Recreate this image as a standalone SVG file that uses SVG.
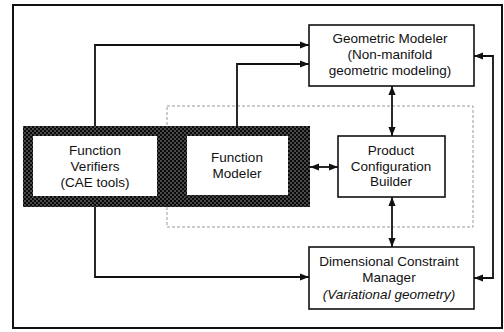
<svg xmlns="http://www.w3.org/2000/svg" width="504" height="332" viewBox="0 0 504 332">
  <style>
    .box { fill: #ffffff; stroke: #111; stroke-width: 1.6; }
    .lbl { font-family: "Liberation Sans", Arial, sans-serif; font-size: 13.5px; fill: #111; text-anchor: middle; }
    .it { font-style: italic; }
    .wire { fill: none; stroke: #111; stroke-width: 1.8; }
    .frame { fill: none; stroke: #111; stroke-width: 2; }
    .group { fill: none; stroke: #999; stroke-width: 1; stroke-dasharray: 3 2; }
  </style>
  <defs>
    <!-- dense stipple used for the function subsystem band -->
    <pattern id="stipple" width="4" height="4" patternUnits="userSpaceOnUse">
      <rect width="4" height="4" fill="#0a0a0a"/>
      <rect x="0.5" y="0.5" width="1" height="1" fill="#fff"/>
      <rect x="2.5" y="2.5" width="1" height="1" fill="#fff"/>
    </pattern>
    <marker id="head" viewBox="0 0 10 8" refX="10" refY="4" markerWidth="9" markerHeight="7.5" markerUnits="userSpaceOnUse" orient="auto-start-reverse">
      <path d="M0,0 L10,4 L0,8 Z" fill="#111"/>
    </marker>
  </defs>

  <rect width="504" height="332" fill="#fff"/>

  <!-- outer frame -->
  <rect class="frame" x="13" y="5" width="489" height="323"/>

  <!-- dotted grouping around configuration builder -->
  <rect class="group" x="167" y="106" width="306" height="121"/>

  <!-- connectors -->
  <g id="connectors">
    <path class="wire" d="M95,126 V45 H309" marker-end="url(#head)"/>
    <path class="wire" d="M237,126 V64 H309" marker-end="url(#head)"/>
    <path class="wire" d="M95,207 V277 H309" marker-end="url(#head)"/>
    <path class="wire" d="M310,167 H338" marker-start="url(#head)" marker-end="url(#head)"/>
    <path class="wire" d="M392,86 V136" marker-start="url(#head)" marker-end="url(#head)"/>
    <path class="wire" d="M392,197 V247" marker-start="url(#head)" marker-end="url(#head)"/>
    <path class="wire" d="M474,56 H493 V278 H474" marker-start="url(#head)" marker-end="url(#head)"/>
  </g>

  <!-- stippled band holding the two function modules -->
  <rect id="function-band" x="23" y="126" width="287" height="81" fill="url(#stipple)"/>

  <g id="function-verifiers">
    <rect x="33" y="136" width="124" height="60" fill="#fff"/>
    <text class="lbl" x="95" y="155">Function</text>
    <text class="lbl" x="95" y="171">Verifiers</text>
    <text class="lbl" x="95" y="187">(CAE tools)</text>
  </g>

  <g id="function-modeler">
    <rect x="187" y="136" width="101" height="59" fill="#fff"/>
    <text class="lbl" x="237" y="162">Function</text>
    <text class="lbl" x="237" y="178">Modeler</text>
  </g>

  <g id="geometric-modeler">
    <rect class="box" x="309" y="25" width="165" height="61"/>
    <text class="lbl" x="390" y="43">Geometric Modeler</text>
    <text class="lbl" x="390" y="59">(Non-manifold</text>
    <text class="lbl" x="390" y="75">geometric modeling)</text>
  </g>

  <g id="product-configuration-builder">
    <rect class="box" x="338" y="136" width="107" height="61"/>
    <text class="lbl" x="391" y="155">Product</text>
    <text class="lbl" x="391" y="171">Configuration</text>
    <text class="lbl" x="391" y="186">Builder</text>
  </g>

  <g id="dimensional-constraint-manager">
    <rect class="box" x="309" y="247" width="165" height="62"/>
    <text class="lbl" x="389" y="266">Dimensional Constraint</text>
    <text class="lbl" x="389" y="282">Manager</text>
    <text class="lbl it" x="389" y="299">(Variational geometry)</text>
  </g>
</svg>
